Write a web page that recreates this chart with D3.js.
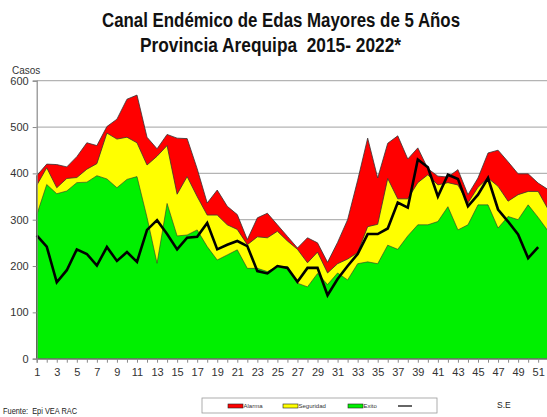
<!DOCTYPE html>
<html>
<head>
<meta charset="utf-8">
<script src="https://cdn.jsdelivr.net/npm/d3@7"></script>
<style>
  body { margin: 0; background: #fff; }
  svg { display: block; font-family: "Liberation Sans", Arial, sans-serif; }
</style>
</head>
<body>
<div id="chart"></div>
<script>
// Semanas epidemiologicas
var weeks = d3.range(1, 53);

// Limite superior de cada zona del canal endemico
var alarma = [395, 420, 419, 414, 436, 466, 460, 501, 517, 560, 569, 478, 453, 484, 476, 475, 410, 336, 364, 329,
              311, 257, 304, 314, 289, 264, 239, 261, 250, 208, 251, 300, 385, 476, 390, 465, 481, 431, 455, 410,
              394, 392, 408, 354, 390, 444, 450, 425, 399, 399, 379, 365];
var seguridad = [374, 412, 369, 389, 391, 409, 421, 487, 474, 478, 466, 418, 437, 460, 355, 393, 350, 310, 310, 289,
                 279, 246, 263, 261, 275, 254, 236, 207, 230, 185, 205, 215, 229, 285, 290, 389, 345, 345, 380, 397,
                 375, 380, 375, 336, 370, 390, 372, 340, 354, 361, 361, 322];
var exito = [310, 376, 356, 362, 380, 381, 395, 388, 369, 387, 393, 305, 206, 335, 265, 267, 278, 242, 213, 224,
             235, 195, 195, 188, 199, 199, 163, 155, 184, 160, 185, 170, 205, 209, 205, 245, 236, 265, 289, 289,
             296, 328, 278, 289, 332, 332, 282, 307, 300, 332, 305, 275];
// Casos del anio actual (hasta la SE 51)
var casos = [266, 242, 165, 191, 236, 226, 201, 241, 211, 230, 209, 278, 299, 269, 236, 261, 263, 293, 236, 246,
             254, 243, 189, 184, 200, 196, 166, 196, 196, 137, 172, 200, 226, 269, 269, 281, 337, 326, 430, 413,
             350, 397, 388, 329, 354, 390, 322, 296, 268, 217, 241];

var yTicks = [0, 100, 200, 300, 400, 500, 600];

var svgWidth = 547;
var svgHeight = 417;

var svg = d3.select("#chart")
    .append("svg")
    .attr("width", svgWidth)
    .attr("height", svgHeight);

var x = d3.scaleLinear().domain([1, 52]).range([36.7, 548.2]);
var y = d3.scaleLinear().domain([0, 600]).range([358.7, 80.7]);

// Titulo
svg.append("text")
    .attr("x", 102).attr("y", 27)
    .attr("textLength", 358).attr("lengthAdjust", "spacingAndGlyphs")
    .style("font-size", "20px").style("font-weight", "bold").style("fill", "#111")
    .style("white-space", "pre")
    .text("Canal Endémico de Edas Mayores de 5 Años");
svg.append("text")
    .attr("x", 140).attr("y", 52)
    .attr("textLength", 261).attr("lengthAdjust", "spacingAndGlyphs")
    .style("font-size", "20px").style("font-weight", "bold").style("fill", "#111")
    .style("white-space", "pre")
    .text("Provincia Arequipa  2015- 2022*");

svg.append("text")
    .attr("x", 12).attr("y", 74)
    .style("font-size", "10px").style("fill", "#333")
    .text("Casos");

// Lineas de cuadricula
svg.append("g")
    .selectAll("line")
    .data(yTicks.slice(1))
    .enter()
    .append("line")
    .attr("x1", x(1)).attr("x2", svgWidth)
    .attr("y1", d => y(d)).attr("y2", d => y(d))
    .attr("stroke", "#b4b4b4")
    .attr("stroke-width", 1.2);

// Areas del canal endemico
function zone(values) {
    return d3.area()
        .x((d, i) => x(weeks[i]))
        .y0(y(0))
        .y1(d => y(d))(values);
}

svg.append("path").attr("d", zone(alarma))
    .attr("fill", "#ff0000").attr("stroke", "#333").attr("stroke-width", 0.8);
svg.append("path").attr("d", zone(seguridad))
    .attr("fill", "#ffff00").attr("stroke", "#333").attr("stroke-width", 0.8);
svg.append("path").attr("d", zone(exito))
    .attr("fill", "#00f000").attr("stroke", "#333").attr("stroke-width", 0.6);

var line = d3.line()
    .x((d, i) => x(weeks[i]))
    .y(d => y(d));

svg.append("path").attr("d", line(casos))
    .attr("fill", "none").attr("stroke", "#000").attr("stroke-width", 2.6)
    .attr("stroke-linejoin", "miter");

// Ejes
var leftAxis = d3.axisLeft(y).tickValues(yTicks).tickSize(4).tickPadding(4);
var bottomAxis = d3.axisBottom(x).tickValues(weeks).tickSize(4).tickPadding(6)
    .tickFormat(d => d % 2 ? d : "");

var gy = svg.append("g")
    .attr("transform", `translate(${x(1)},0)`)
    .call(leftAxis);
var gx = svg.append("g")
    .attr("transform", `translate(0,${y(0)})`)
    .call(bottomAxis);

[gx, gy].forEach(function(g) {
    g.select(".domain").attr("stroke", "#8a8a8a").attr("stroke-width", 1.2);
    g.selectAll(".tick line").attr("stroke", "#8a8a8a");
    g.selectAll(".tick text")
        .style("font-family", "'Liberation Sans', Arial, sans-serif")
        .style("font-size", "11px").style("fill", "#333");
});

// Pie y leyenda
svg.append("text")
    .attr("x", 3).attr("y", 414)
    .attr("textLength", 74).attr("lengthAdjust", "spacingAndGlyphs")
    .style("font-size", "9px").style("fill", "#222")
    .style("white-space", "pre")
    .text("Fuente:  Epi VEA RAC");

svg.append("text")
    .attr("x", 497).attr("y", 408)
    .style("font-size", "8.5px").style("fill", "#222")
    .text("S.E");

var legendItems = [
    {name: "Alarma", color: "#ff0000", x: 228},
    {name: "Seguridad", color: "#ffff00", x: 283},
    {name: "Exito", color: "#00f000", x: 348}
];

var legend = svg.append("g");
legend.append("rect")
    .attr("x", 202).attr("y", 398).attr("width", 235).attr("height", 15)
    .attr("fill", "#fff").attr("stroke", "#999").attr("stroke-width", 0.8);

var items = legend.selectAll("g.item")
    .data(legendItems)
    .enter()
    .append("g")
    .attr("class", "item");
items.append("rect")
    .attr("x", d => d.x).attr("y", 404)
    .attr("width", 15).attr("height", 4)
    .attr("fill", d => d.color).attr("stroke", "#222").attr("stroke-width", 0.6);
items.append("text")
    .attr("x", d => d.x + 15.5).attr("y", 408.3)
    .style("font-size", "6px").style("fill", "#333")
    .text(d => d.name);

legend.append("line")
    .attr("x1", 398).attr("x2", 412).attr("y1", 406).attr("y2", 406)
    .attr("stroke", "#000").attr("stroke-width", 1.2);
</script>
</body>
</html>
